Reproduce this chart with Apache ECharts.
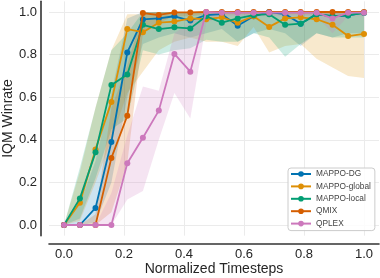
<!DOCTYPE html>
<html>
<head>
<meta charset="utf-8">
<script src="https://cdn.jsdelivr.net/npm/echarts@6/dist/echarts.min.js"></script>
<style>
html,body{margin:0;padding:0;background:#fff;}
#chart{width:380px;height:278px;}
</style>
</head>
<body>
<div id="chart"></div>
<script>
const steps = [0.000, 0.053, 0.105, 0.158, 0.211, 0.263, 0.316, 0.368, 0.421, 0.474, 0.526, 0.579, 0.632, 0.684, 0.737, 0.789, 0.842, 0.895, 0.947, 1.000];
const tickValues = [0.0, 0.2, 0.4, 0.6, 0.8, 1.0];
const seriesNames = ['MAPPO-DG', 'MAPPO-global', 'MAPPO-local', 'QMIX', 'QPLEX'];
const colors = ['#0173b2', '#de8f05', '#029e73', '#d55e00', '#cc78bc'];

const mappoDG      = [0, 0, 0.08, 0.39, 0.81, 0.965, 0.97, 0.98, 0.96, 0.985, 0.99, 0.935, 0.98, 1.0, 0.99, 0.945, 0.99, 0.98, 0.983, 0.998];
const mappoDGLow   = [0, 0, 0.01, 0.2, 0.6, 0.85, 0.88, 0.9, 0.88, 0.9, 0.92, 0.86, 0.9, 0.92, 0.9, 0.84, 0.9, 0.88, 0.9, 0.9];
const mappoDGHigh  = [0, 0.1, 0.3, 0.62, 0.97, 1, 1, 1, 1, 1, 1, 1, 1, 1, 1, 1, 1, 1, 1, 1];

const mappoGlobal     = [0, 0.105, 0.355, 0.578, 0.92, 0.905, 0.95, 0.955, 0.97, 0.966, 0.975, 0.95, 0.98, 0.93, 0.97, 0.975, 0.966, 0.94, 0.887, 0.897];
const mappoGlobalLow  = [0, 0.02, 0.2, 0.4, 0.62, 0.72, 0.82, 0.86, 0.88, 0.86, 0.86, 0.84, 0.93, 0.81, 0.84, 0.85, 0.78, 0.74, 0.70, 0.69];
const mappoGlobalHigh = [0, 0.25, 0.55, 0.82, 0.99, 0.99, 1, 1, 1, 1, 1, 1, 1, 1, 1, 1, 1, 1, 0.99, 0.99];

const mappoLocal     = [0, 0.125, 0.341, 0.657, 0.706, 0.94, 0.92, 0.928, 0.923, 0.98, 0.95, 0.97, 0.985, 0.99, 0.94, 0.945, 0.99, 0.98, 0.985, 0.995];
const mappoLocalLow  = [0, 0.03, 0.22, 0.45, 0.5, 0.82, 0.80, 0.82, 0.83, 0.87, 0.86, 0.86, 0.9, 0.88, 0.79, 0.85, 0.9, 0.88, 0.88, 0.88];
const mappoLocalHigh = [0, 0.27, 0.55, 0.82, 0.9, 1, 1, 1, 1, 1, 1, 1, 1, 1, 1, 1, 1, 1, 1, 1];

const qmix     = [0, 0, 0, 0.315, 0.513, 0.995, 0.986, 0.998, 0.998, 1, 1, 1, 1, 1, 1, 1, 1, 1, 1, 1];
const qmixLow  = [0, 0, 0, 0.06, 0.29, 0.9, 0.95, 0.98, 0.98, 0.99, 0.99, 0.99, 0.99, 0.99, 0.99, 0.99, 0.99, 0.99, 0.99, 0.99];
const qmixHigh = [0, 0, 0.05, 0.55, 0.75, 1, 1, 1, 1, 1, 1, 1, 1, 1, 1, 1, 1, 1, 1, 1];

const qplex     = [0, 0, 0, 0, 0.29, 0.41, 0.537, 0.803, 0.72, 1, 0.997, 0.997, 0.997, 0.997, 0.997, 0.997, 0.997, 0.97, 0.997, 0.997];
const qplexLow  = [0, 0, 0, 0, 0.12, 0.16, 0.4, 0.62, 0.5, 0.95, 0.98, 0.98, 0.98, 0.98, 0.98, 0.98, 0.98, 0.9, 0.98, 0.98];
const qplexHigh = [0, 0, 0, 0.15, 0.42, 0.65, 0.63, 0.9, 0.95, 1, 1, 1, 1, 1, 1, 1, 1, 1, 1, 1];

const means = [mappoDG, mappoGlobal, mappoLocal, qmix, qplex];
const lows  = [mappoDGLow, mappoGlobalLow, mappoLocalLow, qmixLow, qplexLow];
const highs = [mappoDGHigh, mappoGlobalHigh, mappoLocalHigh, qmixHigh, qplexHigh];

const FONT = '"Liberation Sans", Arial, sans-serif';
const chart = echarts.init(document.getElementById('chart'), null, {renderer: 'canvas'});

function hexToRgba(hex, a) {
  const n = parseInt(hex.slice(1), 16);
  return 'rgba(' + ((n >> 16) & 255) + ',' + ((n >> 8) & 255) + ',' + (n & 255) + ',' + a + ')';
}

const bandSeries = seriesNames.map((name, k) => ({
  type: 'custom',
  name: name + ' band',
  coordinateSystem: 'cartesian2d',
  silent: true,
  z: 1,
  data: steps.map((x, i) => [x, lows[k][i], highs[k][i]]),
  encode: {x: 0, y: [1, 2]},
  renderItem: function (params, api) {
    if (params.dataIndex !== 0) return null;
    const pts = [];
    for (let i = 0; i < steps.length; i++) pts.push(api.coord([steps[i], highs[k][i]]));
    for (let i = steps.length - 1; i >= 0; i--) pts.push(api.coord([steps[i], lows[k][i]]));
    return {
      type: 'polygon',
      shape: {points: pts},
      style: {fill: hexToRgba(colors[k], 0.2), stroke: null}
    };
  }
}));

const lineSeries = seriesNames.map((name, k) => ({
  type: 'line',
  name: name,
  z: 3 + k,
  data: steps.map((x, i) => [x, means[k][i]]),
  symbol: 'circle',
  symbolSize: 6,
  showSymbol: true,
  lineStyle: {width: 1.8, color: colors[k]},
  itemStyle: {color: colors[k]},
  emphasis: {disabled: true}
}));

chart.setOption({
  animation: false,
  backgroundColor: '#ffffff',
  textStyle: {fontFamily: FONT},
  grid: {left: 49, right: 1, top: 1.35, bottom: 42.35, containLabel: false, outerBoundsMode: 'none'},
  xAxis: {
    type: 'value',
    min: -0.05,
    max: 1.05,
    offset: 8,
    name: 'Normalized Timesteps',
    nameLocation: 'middle',
    nameGap: 18,
    nameMoveOverlap: false,
    nameTextStyle: {fontSize: 14, color: '#262626', fontFamily: FONT, verticalAlign: 'top'},
    axisLine: {show: true, onZero: false, lineStyle: {color: '#333333', width: 1.6}},
    axisTick: {show: false, customValues: tickValues},
    axisLabel: {customValues: tickValues, fontSize: 13, color: '#262626', fontFamily: FONT, margin: 4,
      formatter: v => v.toFixed(1)},
    splitLine: {show: true, lineStyle: {color: '#ebebeb', width: 1}}
  },
  yAxis: {
    type: 'value',
    min: -0.05,
    max: 1.05,
    offset: 8,
    name: 'IQM Winrate',
    nameLocation: 'middle',
    nameGap: 26,
    nameMoveOverlap: false,
    nameTextStyle: {fontSize: 14, color: '#262626', fontFamily: FONT},
    axisLine: {show: true, onZero: false, lineStyle: {color: '#333333', width: 1.6}},
    axisTick: {show: false, customValues: tickValues},
    axisLabel: {customValues: tickValues, fontSize: 13, color: '#262626', fontFamily: FONT, margin: 4,
      formatter: v => v.toFixed(1)},
    splitLine: {show: true, lineStyle: {color: '#ebebeb', width: 1}}
  },
  legend: {
    data: seriesNames,
    orient: 'vertical',
    left: 288,
    top: 168,
    padding: [1, 4, 2, 2],
    itemWidth: 20,
    itemHeight: 7,
    itemGap: 2.4,
    borderColor: '#cccccc',
    borderWidth: 1,
    borderRadius: 3,
    backgroundColor: 'rgba(255,255,255,0.85)',
    textStyle: {fontSize: 8.3, color: '#444444', fontFamily: FONT, lineHeight: 10},
    selectedMode: false
  },
  series: bandSeries.concat(lineSeries)
});
</script>
</body>
</html>
